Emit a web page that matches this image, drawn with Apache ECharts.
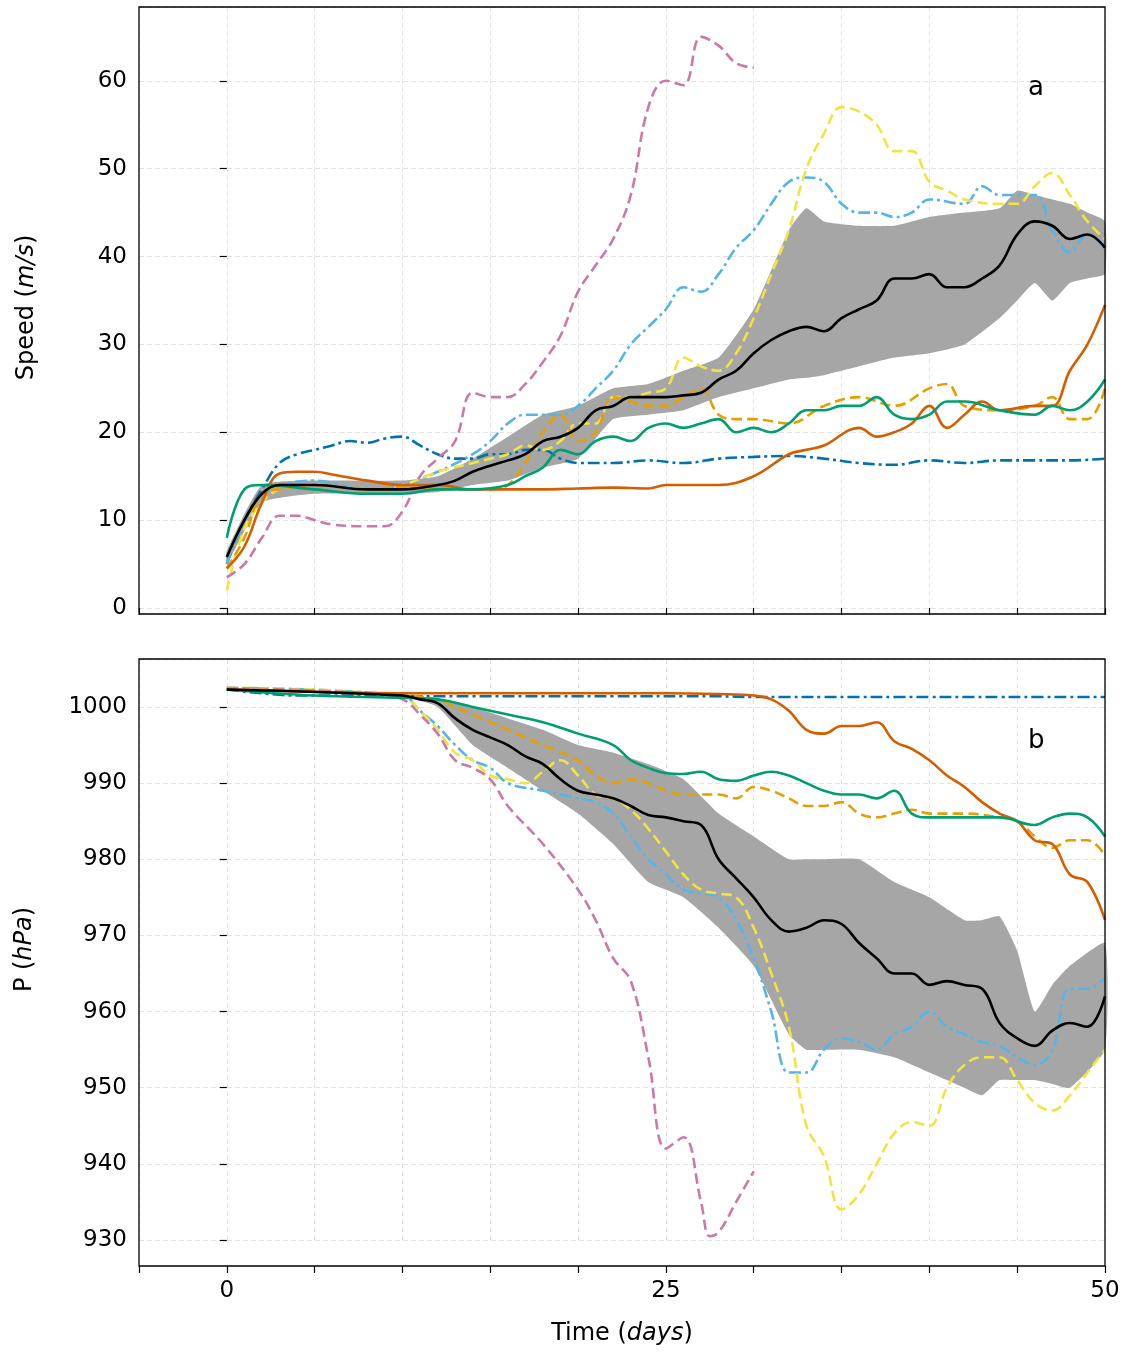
<!DOCTYPE html>
<html>
<head>
<meta charset="utf-8">
<script src="https://cdn.jsdelivr.net/npm/echarts@6/dist/echarts.min.js"></script>
<style>html,body{margin:0;background:#fff}#chart{width:1127px;height:1353px}</style>
</head>
<body>
<div id="chart"></div>
<script>
// ---- speed panel (a) ----
var blueX = [0,1,2,3,4,5,6,7,8,9,10,11,12,13,14,15,16,17,18,19,20,22,24,26,28,30,32,34,36,38,40,42,44,46,48,50];
var blueSpd = [5,10,13.5,16.5,17.5,18,18.5,19,18.8,19.3,19.5,18.5,17.5,17,17,17.5,17.5,18,18,17,16.5,16.5,16.8,16.5,17,17.2,17.3,17,16.5,16.3,16.8,16.5,16.8,16.8,16.8,17];
var skyX = [0,1,2,3,5,8,10,12,14,15,16,17,18,19,20,21,22,23,24,25,26,27,28,29,30,31,32,33,34,35,36,37,38,39,40,42,43,44,46,47,48,49,50];
var skySpd = [5,10,13,14,14.5,13.5,14,15.5,17.5,19,21,22,22,22,23,25,27,30,32,34,36.5,36,38,41,43,46,48.5,49,48.5,46,45,45,44.5,45,46.5,46,48,47,47,43,40.5,42.5,41];
var yelX = [0,1,2,3,5,8,10,12,14,15,16,17,18,19,20,21,22,23,24,25,26,27,28,29,30,31,32,33,34,35,36,37,38,39,40,41,42,44,45,46,47,48,49,50];
var yelSpd = [2,9,12,13.5,14,13.5,14,15.5,16.5,17,17.5,18.5,18,19,21,21,24,24,24.5,25,28.5,27.5,27,29,33,38,43,50,54,57,56.5,55,52,52,48.5,47.5,46.5,46,46,48,49.5,47,44,42];
var pinkX = [0,1,2,3,4,5,6,8,9,10,11,12,13,14,15,16,17,18,19,20,21,22,23,24,25,26,27,28,29,30];
var pinkSpd = [3.5,5,8,10.5,10.5,10,9.5,9.3,9.3,11,15,17,19,24.5,24,24,25.5,28,31,36,39,42,47,57,60,59.5,65,64,62,61.5];
var oraX = [0,1,2,3,5,8,10,12,14,15,16,17,18,19,20,21,22,23,24,25,26,27,28,29,30,32,34,36,38,40,41,42,44,46,47,48,49,50];
var oraSpd = [4.5,8,13,13.5,14,13.5,13.8,13.5,13.5,13.5,14,16.5,20,22,19,20,24,23.5,23,23,24,25,22,21.5,21.5,21,23,24,23,25,25.5,23,22.5,23,24,21.5,21.5,25];
var verX = [0,1,2,3,4,5,6,8,10,12,14,16,18,20,22,24,25,26,28,30,32,33,34,36,37,38,39,40,41,42,43,44,46,47,48,49,50];
var verSpd = [4.5,7,12,15.3,15.5,15.5,15.2,14.5,14,14,13.5,13.5,13.5,13.6,13.7,13.6,14,14,14,15,17.5,18,18.5,20.5,19.5,20,21,23,20.5,22,23.5,22.5,23,23,27,30,34.5];
var grnX = [0,1,2,5,8,10,12,14,16,17,18,19,20,21,22,23,24,25,26,27,28,29,30,31,32,33,34,35,36,37,38,39,40,41,42,44,46,47,48,49,50];
var grnSpd = [8,13.5,14,13.5,13,13,13.5,13.5,14,15,16,18,17.5,19,19.5,19,20.5,21,20.5,21,21.5,20,20.5,20,21,22.5,22.5,23,23,24,22,21.5,22,23.5,23.5,22.5,22,23,22.5,23.5,26];
var meanX = [0,1,2,3,5,8,10,12,13,14,15,16,17,18,19,20,21,22,23,24,25,26,27,28,29,30,31,32,33,34,35,36,37,38,39,40,41,42,43,44,45,46,47,48,49,50];
var meanSpd = [5.8,10,13,14,14,13.5,13.5,14,14.5,15.5,16.2,16.8,17.5,19,19.5,20.5,22.5,23,24,24,24,24.2,24.5,26,27,29,30.5,31.5,32,31.5,33,34,35,37.5,37.5,38,36.5,36.5,37.5,39,42.5,44,43.5,42,42.5,41];
var bandX = [0,2,5,10,12,14,16,18,20,22,24,26,28,30,32,33,34,36,38,40,42,44,45,46,47,48,49,50];
var bandSpdLo = [5,12,13,13,13.2,14,14.5,16,17,21.5,22,22.5,24,25,26,26.2,26.5,27.5,28.5,29,30,33,35,37,35,37,37.5,38];
var bandSpdHi = [6.5,14,14.5,14.5,15,17,19.5,22,23,25,25.5,27,28.5,34,43,45.5,44,43.5,43.5,44.5,45,45.5,47.5,47,46.5,46,45,44];

// ---- pressure panel (b) ----
var blueP = [1002.3,1002,1001.8,1001.6,1001.5,1001.5,1001.5,1001.5,1001.5,1001.5,1001.5,1001.4,1001.4,1001.4,1001.4,1001.4,1001.4,1001.4,1001.4,1001.4,1001.4,1001.4,1001.4,1001.4,1001.4,1001.3,1001.3,1001.3,1001.3,1001.3,1001.3,1001.3,1001.3,1001.3,1001.3,1001.3];
var verPX = [0,5,10,15,20,25,28,30,31,32,33,34,35,36,37,38,39,40,41,42,43,44,45,46,47,48,49,50];
var verP = [1002.3,1002,1001.8,1001.8,1001.8,1001.8,1001.7,1001.5,1001,999.5,997,996.5,997.5,997.5,998,995.5,994.5,993,991,989.5,987.5,986,985,982.5,982,978,977,972];
var grnPX = [0,5,10,12,14,16,18,20,22,23,24,25,26,27,28,29,30,31,32,33,34,35,36,37,38,39,40,42,44,46,47,48,49,50];
var grnP = [1002.3,1001.5,1001.2,1001,1000,999,998,996.5,995,993,992,991.3,991.2,991.5,990.5,990.3,991,991.5,991,990,989,988.5,988.5,988,989,986,985.5,985.5,985.5,984.5,985.5,986,985.5,983];
var oraPX = [0,10,12,13,14,16,18,20,21,22,23,24,25,26,28,29,30,31,32,33,34,35,36,37,38,39,40,42,44,45,46,47,48,49,50];
var oraP = [1002.5,1001.5,1001,1000,999,997,995,993,991,990,990.5,990,989,988.5,988.5,988,989.5,989,988,987,987,987.5,986,985.5,986,986.5,986,986,985.5,985,983,981.5,982.5,982.5,980.5];
var skyPX = [0,10,11,12,13,14,15,16,18,20,21,22,23,24,25,26,27,28,29,30,31,32,33,34,35,36,37,38,39,40,41,42,43,44,45,46,47,48,49,50];
var skyP = [1002.5,1001.5,999.5,997.5,995,993,992,990,989,988,987.5,986,983,980,978,976,975.5,975,972,967,960,952,952,955,956.5,956,955,957,958,960,958,957,956,955.5,954,953,955,963,963,964.5];
var yelPX = [0,10,11,12,13,14,15,16,17,18,19,20,21,22,23,24,25,26,27,28,29,30,31,32,33,34,35,36,37,38,39,40,41,42,43,44,45,46,47,48,49,50];
var yelP = [1002.5,1001.5,999.5,997,994,993,991,990.5,990,991.5,993,991,988.5,988,986.5,984,981,978,976,975.5,975,971,965,958,945,941,934,936,940,944,945.5,945,950,953,954,954,951,948,947,949,952,955];
var pinkPX = [0,8,10,11,12,13,14,15,16,18,20,21,22,23,24,25,26,27,27.5,28,29,30];
var pinkP = [1002.5,1001.8,1001,999,996.5,993,992,990.5,987,982,976,972,967,964,954,942,943.5,935,930.5,931,935,939];
var meanPX = [0,10,11,12,13,14,15,16,17,18,19,20,21,22,23,24,25,26,27,28,29,30,31,32,33,34,35,36,37,38,39,40,41,42,43,44,45,46,47,48,49,50];
var meanP = [1002.3,1001.5,1001,1000.5,998.5,997,996,995,993.5,992.5,990.5,989,988.5,988,987,985.8,985.5,985,984.5,980,977.5,975,972,970.5,971,972,971.5,969,967,965,965,963.5,964,963.5,963,958.5,956.5,955.5,957.5,958.5,958,962];
var bandPX = [0,10,12,14,16,18,20,22,24,26,28,30,32,33,34,36,38,40,42,43,44,45,46,47,48,50];
var bandPLo = [1002.2,1001.4,1000,995,992,989,986,982,977,975,971,966,957,955,955,955,954,952,950,949,951,951,951,950.5,950,955];
var bandPHi = [1002.5,1001.6,1001,1000,998.5,997,995,994,992.5,990.5,986,983,980,980,980,980,977,975,972,972,972.5,968,960,963.5,966,969];

var C = {blue:'#0072B2', sky:'#56B4E9', yel:'#F0E442', pink:'#CC79A7', ora:'#E69F00', ver:'#D55E00', grn:'#009E73'};

function pairs(xs, ys){ return xs.map(function(x,i){ return [x, ys[i]]; }); }

function line(name, gi, xs, ys, color, type, z){
	return {
		name: name, type: 'line', xAxisIndex: gi, yAxisIndex: gi,
		data: pairs(xs, ys), showSymbol: false, smooth: 0.4, z: z || 3,
		lineStyle: {color: color, width: 2.6, type: type}
	};
}
// gray spread band: two smooth edges joined into one closed path
function band(gi, xs, lo, hi){
	return {
		type: 'custom', xAxisIndex: gi, yAxisIndex: gi, z: 1,
		data: xs.map(function(x,i){ return [x, lo[i], hi[i]]; }),
		encode: {x: 0, y: [1, 2]},
		renderItem: function(params, api){
			if (params.dataIndex !== 0) return;
			var pts = [];
			for (var i = 0; i < xs.length; i++) pts.push(api.coord([xs[i], lo[i]]));
			for (var j = xs.length - 1; j >= 0; j--) pts.push(api.coord([xs[j], hi[j]]));
			return {type:'polygon', shape:{points:pts, smooth:0.15}, style:{fill:'#a6a6a6'}};
		}
	};
}
var dashDot = [12,4,3,4];

var xCommon = {
	type:'value', min:-5, max:50, interval:5,
	axisLine:{show:false},
	axisTick:{show:true, length:7, lineStyle:{color:'#000', width:1.2}},
	splitLine:{show:true, lineStyle:{color:'#e3e3e3', type:[5,3]}}
};
var yCommon = {
	type:'value', interval:10, nameLocation:'middle',
	axisLine:{show:false},
	axisTick:{show:true, length:7, lineStyle:{color:'#000', width:1.2}},
	axisLabel:{fontSize:23, color:'#000', fontFamily:'DejaVu Sans', margin:12, showMaxLabel:false,
		formatter:function(v){ return String(v); }},
	splitLine:{show:true, lineStyle:{color:'#e3e3e3', type:[5,3]}},
	nameTextStyle:{fontSize:24, color:'#000', fontFamily:'DejaVu Sans',
		rich:{i:{fontSize:24, fontStyle:'italic', fontFamily:'DejaVu Sans'}}}
};

var chart = echarts.init(document.getElementById('chart'));
var series = [
	band(0, bandX, bandSpdLo, bandSpdHi),
	line('blue', 0, blueX, blueSpd, C.blue, dashDot),
	line('sky', 0, skyX, skySpd, C.sky, dashDot),
	line('yel', 0, yelX, yelSpd, C.yel, 'dashed'),
	line('pink', 0, pinkX, pinkSpd, C.pink, 'dashed'),
	line('ora', 0, oraX, oraSpd, C.ora, 'dashed'),
	line('ver', 0, verX, verSpd, C.ver, 'solid'),
	line('grn', 0, grnX, grnSpd, C.grn, 'solid'),
	line('mean', 0, meanX, meanSpd, '#000', 'solid', 5),
	band(1, bandPX, bandPLo, bandPHi),
	line('blue', 1, blueX, blueP, C.blue, dashDot),
	line('sky', 1, skyPX, skyP, C.sky, dashDot),
	line('yel', 1, yelPX, yelP, C.yel, 'dashed'),
	line('pink', 1, pinkPX, pinkP, C.pink, 'dashed'),
	line('ora', 1, oraPX, oraP, C.ora, 'dashed'),
	line('ver', 1, verPX, verP, C.ver, 'solid'),
	line('grn', 1, grnPX, grnP, C.grn, 'solid'),
	line('mean', 1, meanPX, meanP, '#000', 'solid', 5)
];

chart.setOption({
	animation: false,
	backgroundColor: '#fff',
	grid: [
		{left:139, top:7, width:966, height:601},
		{left:139, top:659, width:966, height:581}
	],
	xAxis: [
		Object.assign({}, xCommon, {gridIndex:0, offset:6, axisLabel:{show:false}}),
		Object.assign({}, xCommon, {gridIndex:1, offset:26,
			name:'Time ({i|days})', nameLocation:'middle', nameGap:56,
			nameTextStyle:{fontSize:24, color:'#000', fontFamily:'DejaVu Sans',
				rich:{i:{fontSize:24, fontStyle:'italic', fontFamily:'DejaVu Sans'}}},
			axisLabel:{fontSize:23, color:'#000', fontFamily:'DejaVu Sans', margin:14,
				formatter:function(v){ return (v===0||v===25||v===50) ? String(v) : ''; }}})
	],
	yAxis: [
		Object.assign({}, yCommon, {gridIndex:0, min:0, max:68.4, name:'Speed ({i|m/s})', nameGap:100}),
		Object.assign({}, yCommon, {gridIndex:1, min:930, max:1006.3, name:'P ({i|hPa})', nameGap:102})
	],
	graphic: [
		{type:'rect', shape:{x:139, y:7, width:966, height:607}, style:{fill:'none', stroke:'#000', lineWidth:1.3}, z:100},
		{type:'rect', shape:{x:139, y:659, width:966, height:607}, style:{fill:'none', stroke:'#000', lineWidth:1.3}, z:100},
		{type:'text', x:1028, y:75, style:{text:'a', fontSize:26, fill:'#000', fontFamily:'DejaVu Sans'}, z:100},
		{type:'text', x:1028, y:728, style:{text:'b', fontSize:26, fill:'#000', fontFamily:'DejaVu Sans'}, z:100}
	],
	series: series
});
</script>
</body>
</html>
